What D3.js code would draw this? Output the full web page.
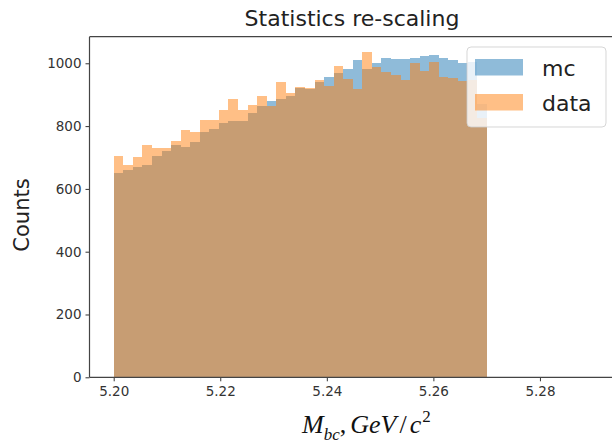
<!DOCTYPE html>
<html><head><meta charset="utf-8">
<script src="https://cdn.jsdelivr.net/npm/d3@7"></script>
<style>body{margin:0;background:#fff;overflow:hidden}</style>
</head><body>
<svg id="c" width="612" height="445"></svg>
<script>
// ---- data ----
const binStart = 5.20, binEnd = 5.27, binCount = 39;
const mcCounts = [651,660,671,676,706,722,740,734,750,780,791,811,816,816,843,865,881,885,896,922,918,941,955,968,981,1011,981,1000,1016,1013,1013,1016,1023,1026,1016,1010,1002,1003,870];
const dataCounts = [706,676,700,741,731,731,751,786,781,820,820,851,885,851,866,897,865,941,906,925,922,947,928,991,949,917,1035,987,973,963,946,1002,977,1005,955,952,945,946,825];
const xTicks = [5.20,5.22,5.24,5.26,5.28];
const yTicks = [0,200,400,600,800,1000];
const seriesNames = ["mc","data"];
const seriesColors = ["#1f77b4","#ff7f0e"];

// ---- layout ----
const svg = d3.select("#c");
const L = 89.5, R = 622, T = 36.7, B = 377.3;
const x = d3.scaleLinear().domain([5.19546, 5.2954]).range([L, R]);
const y = d3.scaleLinear().domain([0, 1084.7]).range([B, T]);
const edges = d3.range(binCount + 1).map(i => binStart + i * (binEnd - binStart) / binCount);

[mcCounts, dataCounts].forEach((vals, si) => {
  svg.append("g").selectAll("rect").data(vals).join("rect")
    .attr("x", (d, i) => x(edges[i]))
    .attr("width", (d, i) => x(edges[i + 1]) - x(edges[i]))
    .attr("y", d => y(d))
    .attr("height", d => B - y(d))
    .attr("fill", seriesColors[si])
    .attr("fill-opacity", 0.5)
    .attr("shape-rendering", "crispEdges");
});

// axes
const font = "'DejaVu Sans', sans-serif";
const yAxis = svg.append("g").attr("transform", `translate(${L},0)`)
  .call(d3.axisLeft(y).tickValues(yTicks).tickSize(4).tickPadding(4).tickFormat(d3.format("d")));
const xAxis = svg.append("g").attr("transform", `translate(0,${B})`)
  .call(d3.axisBottom(x).tickValues(xTicks).tickSize(4).tickPadding(5).tickFormat(d3.format(".2f")));
[yAxis, xAxis].forEach(g => {
  g.select(".domain").remove();
  g.selectAll("line").attr("stroke", "#333").attr("stroke-width", 1);
  g.selectAll("text").attr("font-family", font).attr("font-size", 13.5).attr("fill", "#333");
});

// spines
const sp = svg.append("g").attr("stroke", "#444").attr("stroke-width", 1.2).attr("fill", "none");
sp.append("line").attr("x1", L).attr("x2", L).attr("y1", T).attr("y2", B);
sp.append("line").attr("x1", L).attr("x2", R).attr("y1", B).attr("y2", B);
sp.append("line").attr("x1", L).attr("x2", R).attr("y1", T).attr("y2", T);
sp.append("line").attr("x1", R).attr("x2", R).attr("y1", T).attr("y2", B);

// title
svg.append("text").attr("x", 352).attr("y", 26).attr("text-anchor", "middle")
  .attr("font-family", font).attr("font-size", 22).attr("fill", "#222").text("Statistics re-scaling");

// y label
svg.append("text").attr("transform", `translate(29,${(T + B) / 2 + 8}) rotate(-90)`)
  .attr("text-anchor", "middle").attr("font-family", font).attr("font-size", 21).attr("fill", "#222")
  .text("Counts");

// x label (math style)
const xl = svg.append("text").attr("x", 302).attr("y", 433)
  .attr("font-family", "'Liberation Serif', 'Times New Roman', serif").attr("font-size", 26)
  .attr("font-style", "italic").attr("fill", "#111");
xl.append("tspan").text("M");
xl.append("tspan").attr("dy", 7).attr("font-size", 17).text("bc");
xl.append("tspan").attr("dy", -7).attr("font-style", "normal").text(",");
xl.append("tspan").attr("dx", 4).text("GeV");
xl.append("tspan").attr("font-style", "normal").attr("dx", 3).text("/");
xl.append("tspan").attr("dx", 3).text("c");
xl.append("tspan").attr("dy", -11).attr("dx", 1).attr("font-size", 17).attr("font-style", "normal").text("2");

// legend
const lg = svg.append("g");
lg.append("rect").attr("x", 467).attr("y", 47).attr("width", 139).attr("height", 80).attr("rx", 4)
  .attr("fill", "#fff").attr("fill-opacity", 0.8).attr("stroke", "#ccc").attr("stroke-opacity", 0.8);
seriesNames.forEach((n, i) => {
  lg.append("rect").attr("x", 475).attr("y", 59 + i * 35).attr("width", 48).attr("height", 16.5)
    .attr("fill", seriesColors[i]).attr("fill-opacity", 0.5);
  lg.append("text").attr("x", 542).attr("y", 76 + i * 35).attr("font-family", font).attr("font-size", 22)
    .attr("fill", "#222").text(n);
});
</script>
</body></html>
